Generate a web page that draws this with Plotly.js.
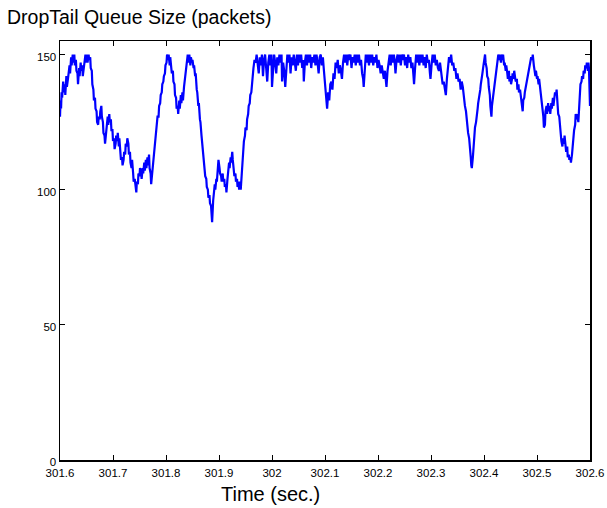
<!DOCTYPE html>
<html><head><meta charset="utf-8">
<script src="https://cdn.plot.ly/plotly-3.0.1.min.js"></script>
<style>html,body{margin:0;padding:0;background:#fff}</style>
</head><body><div id="chart" style="width:607px;height:508px"></div>
<script>
var chartTitle = "DropTail Queue Size (packets)";
var xLabel = "Time (sec.)";
var xTicks = [301.6,301.7,301.8,301.9,302,302.1,302.2,302.3,302.4,302.5,302.6];
var xTickText = ["301.6","301.7","301.8","301.9","302","302.1","302.2","302.3","302.4","302.5","302.6"];
var yTicks = [0,50,100,150];

var timeSec = [
301.600,301.601,301.602,301.603,301.604,301.606,301.607,301.609,301.610,301.612,301.613,301.615,301.616,301.618,301.619,301.621,301.622,301.624,301.625,301.627,301.628,301.630,301.631,301.633,301.634,301.636,301.637,301.639,301.640,301.642,301.643,301.645,301.646,301.648,301.649,301.651,301.652,301.654,301.655,301.657,301.658,301.660,301.661,301.663,301.664,301.666,301.667,301.669,301.670,301.672,301.673,301.675,301.676,301.678,301.679,301.681,301.682,301.684,301.685,301.687,301.688,301.690,301.691,301.693,301.694,301.696,301.697,301.699,301.700,301.702,301.703,301.705,301.706,301.708,301.709,301.711,301.712,301.714,301.715,301.717,301.718,301.720,301.721,301.723,301.724,301.726,301.727,301.729,301.730,301.732,301.733,301.735,301.736,301.738,301.739,301.741,301.742,301.744,301.745,301.747,301.748,301.750,301.751,301.753,301.754,301.756,301.757,301.759,301.760,301.762,301.763,301.765,301.766,301.768,301.769,301.771,301.772,301.774,301.775,301.777,301.778,301.780,301.781,301.783,301.784,301.786,301.787,301.789,301.790,301.792,301.793,301.795,301.796,301.798,301.799,301.801,301.802,301.804,301.805,301.807,301.808,301.810,301.811,301.813,301.814,301.816,301.817,301.819,301.820,301.822,301.823,301.825,301.826,301.828,301.829,301.831,301.832,301.834,301.835,301.837,301.838,301.840,301.841,301.843,301.844,301.846,301.847,301.849,301.850,301.852,301.853,301.855,301.856,301.858,301.859,301.861,301.862,301.864,301.865,301.867,301.868,301.870,301.871,301.873,301.874,301.876,301.877,301.879,301.880,301.882,301.883,301.885,301.886,301.887,301.889,301.890,301.892,301.893,301.895,301.896,301.898,301.899,301.901,301.902,301.904,301.905,301.907,301.908,301.910,301.911,301.913,301.914,301.916,301.917,301.919,301.920,301.922,301.923,301.925,301.926,301.928,301.929,301.931,301.932,301.934,301.935,301.937,301.938,301.940,301.941,301.943,301.944,301.946,301.947,301.949,301.950,301.952,301.953,301.955,301.956,301.958,301.959,301.961,301.962,301.964,301.965,301.967,
301.969,301.971,301.973,301.975,301.977,301.979,301.981,301.983,301.985,301.987,301.989,301.991,301.993,301.995,301.997,301.999,302.000,302.002,302.004,302.006,302.008,302.010,302.012,302.014,302.016,302.018,302.019,302.021,302.023,302.025,302.027,302.029,302.031,302.033,302.035,302.037,302.039,302.041,302.043,302.045,302.047,302.049,302.051,302.053,302.055,302.057,302.059,302.060,302.062,302.064,302.066,302.068,302.070,302.072,302.074,302.076,302.078,302.080,302.082,302.084,302.086,302.088,302.090,302.092,302.094,302.096,302.098,302.100,302.102,302.104,302.106,302.108,302.110,302.112,302.114,302.116,302.118,302.120,302.122,302.124,302.126,302.128,302.130,302.132,302.134,302.136,302.138,302.140,302.142,302.144,302.146,302.148,302.150,302.152,302.154,302.156,302.158,302.160,302.162,302.164,302.166,302.168,302.170,302.172,302.173,302.175,302.177,302.179,302.181,302.183,302.185,302.187,302.189,302.191,302.193,302.195,302.197,302.199,302.201,302.203,302.205,302.207,302.209,302.211,302.213,302.215,302.216,302.218,302.220,302.222,302.224,302.226,302.228,302.230,302.232,302.233,302.235,302.237,302.239,302.241,302.243,302.245,302.247,302.249,302.251,302.253,302.255,302.257,302.259,302.261,302.263,302.265,302.267,302.268,302.270,302.272,302.274,302.276,302.278,302.280,302.282,302.284,302.286,302.288,302.290,302.292,302.294,302.296,302.298,302.299,302.301,302.303,302.305,302.307,302.309,302.311,302.313,302.315,302.317,302.319,302.321,302.322,302.324,302.326,302.328,302.330,302.332,302.334,302.336,302.338,302.340,302.342,302.344,302.346,302.348,302.350,302.352,302.354,302.356,302.358,302.360,302.362,302.364,302.366,302.367,302.369,302.370,302.372,302.373,302.375,302.376,302.377,302.379,302.380,302.382,302.383,302.385,302.386,302.388,302.389,302.391,302.393,302.394,302.396,302.397,302.399,302.400,302.402,302.403,302.405,302.406,302.408,302.409,302.411,302.412,302.414,302.415,302.417,302.418,302.420,302.421,302.423,302.424,302.426,302.427,302.429,302.430,302.432,302.433,302.435,302.436,302.438,302.439,302.441,302.442,302.444,302.445,302.447,302.448,302.450,302.451,302.453,302.454,302.456,302.457,302.459,302.460,302.462,302.463,302.465,302.466,302.468,302.470,302.471,302.473,302.474,302.476,302.477,302.479,302.480,302.482,302.483,302.485,302.486,302.488,302.489,302.491,302.492,302.494,302.495,302.497,302.498,302.500,302.501,302.503,302.504,302.506,302.507,302.509,302.510,302.512,302.513,302.515,302.516,302.518,302.519,302.521,302.522,302.524,302.525,302.527,302.528,302.530,302.531,302.533,302.534,302.536,302.537,302.539,302.540,302.542,302.543,302.545,302.546,302.548,302.549,302.551,302.552,302.554,302.555,302.557,302.558,302.560,302.561,302.563,302.564,302.566,302.567,302.569,302.570,302.572,302.573,302.575,302.576,302.578,302.579,302.581,302.582,302.584,302.585,302.587,302.588,302.590,302.591,302.593,302.594,302.596,302.597,302.598,302.599,302.600
];

var queuePkts = [
127,133,130,136,134,140,136,139,135,142,138,141,144,146,143,149,146,150,147,150,146,148,144,143,139,145,142,147,144,146,142,145,148,150,147,150,147,150,148,149,145,144,139,137,133,134,130,129,125,124,127,126,129,131,127,125,121,120,117,121,124,127,124,128,125,126,122,122,118,119,115,117,120,118,121,116,119,114,111,112,109,111,114,113,117,116,119,117,113,114,110,108,111,106,103,104,101,99,103,102,106,105,108,107,104,108,106,110,107,111,108,112,109,113,108,106,102,106,110,112,116,118,121,124,127,127,131,132,135,136,139,140,142,143,146,147,150,148,150,146,149,145,143,144,140,139,135,134,130,131,128,133,130,135,132,136,133,138,140,143,146,148,150,147,150,146,149,147,148,145,146,142,143,137,136,131,132,126,125,120,118,113,110,108,105,104,101,100,97,98,95,94,90,88,96,99,102,100,104,103,108,111,108,106,105,103,106,103,104,101,102,99,104,107,110,108,112,110,114,111,108,105,106,103,104,101,103,100,103,100,106,110,114,118,120,123,122,126,128,131,132,135,136,139,141,145,148,
147,150,146,143,149,146,150,142,148,150,145,140,147,150,146,150,138,146,150,147,143,149,146,150,147,150,140,147,144,138,145,150,147,150,143,149,146,150,147,144,150,146,150,147,150,145,148,140,147,150,146,150,147,150,145,149,147,150,146,150,147,143,149,150,146,149,144,138,134,130,136,133,139,140,137,143,141,147,145,148,143,146,144,141,147,150,147,150,146,150,148,150,145,149,147,150,146,150,147,150,146,148,143,141,138,146,150,147,150,146,150,147,150,146,149,147,150,145,148,146,143,146,143,141,144,140,138,144,147,150,146,150,147,150,146,143,148,150,147,150,146,150,148,150,146,149,145,150,147,149,145,147,142,139,145,150,147,150,146,150,147,150,146,149,145,150,147,148,143,141,146,150,147,150,146,148,145,144,147,143,141,139,140,137,135,141,146,149,147,150,146,147,144,145,141,143,140,141,137,140,138,133,131,129,126,123,121,119,115,112,109,108,112,116,119,123,125,128,130,132,134,137,139,141,143,146,148,150,147,145,142,141,138,135,131,127,131,134,136,138,141,143,146,148,150,148,150,147,150,148,150,146,147,144,146,143,141,144,140,142,139,141,143,141,144,141,140,141,137,139,136,137,134,131,129,133,134,136,138,140,141,143,144,146,147,149,148,150,146,145,142,144,141,142,139,141,138,136,133,131,127,123,124,129,131,128,132,129,131,128,132,130,134,131,134,136,135,137,131,128,127,124,122,118,116,119,117,120,116,114,116,112,113,111,112,110,113,116,118,122,124,128,126,128,125,130,136,139,140,142,141,144,143,146,145,147,144,147,145,140,131
];

var trace = {
  x: timeSec, y: queuePkts, type: 'scatter', mode: 'lines',
  line: {color: '#0000ff', width: 2.2}, hoverinfo: 'skip'
};

var axisFont = {family: 'Liberation Sans, Arial, sans-serif', size: 11.5, color: '#000'};
var layout = {
  width: 607, height: 508,
  margin: {l: 60, r: 17, t: 41, b: 48, pad: 0},
  paper_bgcolor: '#fff', plot_bgcolor: '#fff',
  showlegend: false,
  title: {text: chartTitle, x: 7/607, xanchor: 'left', xref: 'container',
          y: 1 - 17/508, yanchor: 'middle', yref: 'container',
          font: {family: 'Liberation Sans, Arial, sans-serif', size: 19.5, color: '#000'}},
  xaxis: {
    range: [301.6, 302.6], tickmode: 'array', tickvals: xTicks, ticktext: xTickText,
    ticks: 'inside', ticklen: 5, tickcolor: '#000', tickwidth: 1,
    showline: true, linecolor: '#000', linewidth: 1.5, mirror: 'ticks',
    showgrid: false, zeroline: false, tickfont: axisFont, ticklabelstandoff: 2
  },
  yaxis: {
    range: [0, 155], tickmode: 'array', tickvals: yTicks,
    ticks: 'inside', ticklen: 5, tickcolor: '#000', tickwidth: 1,
    showline: true, linecolor: '#000', linewidth: 1.5, mirror: 'ticks',
    showgrid: false, zeroline: false, tickfont: axisFont, ticklabelshift: 2
  },
  annotations: [{
    text: xLabel, xref: 'paper', yref: 'paper', x: 0.398, y: 0,
    xanchor: 'center', yanchor: 'middle', yshift: -34, showarrow: false,
    font: {family: 'Liberation Sans, Arial, sans-serif', size: 20, color: '#000'}
  }]
};

Plotly.newPlot('chart', [trace], layout, {displayModeBar: false, staticPlot: true});
</script>
</body></html>
